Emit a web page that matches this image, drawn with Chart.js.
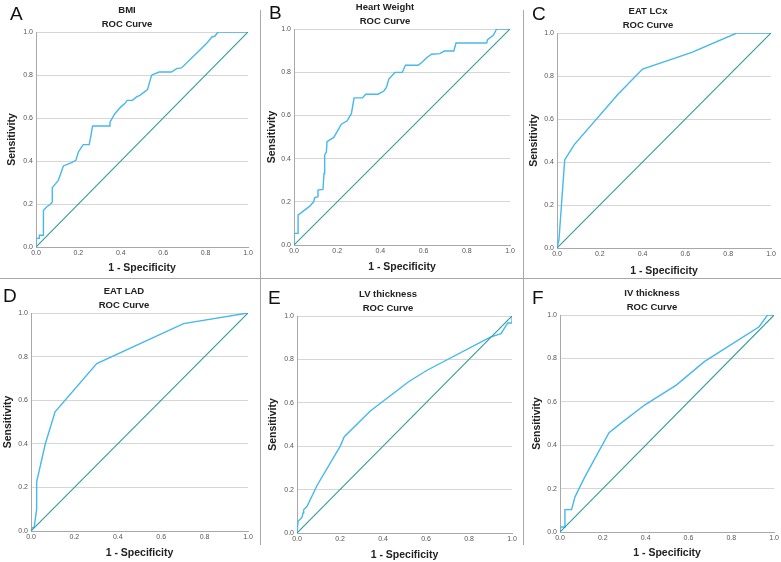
<!DOCTYPE html>
<html>
<head>
<meta charset="utf-8">
<script src="https://cdn.jsdelivr.net/npm/chart.js@4.4.1/dist/chart.umd.min.js"></script>
<style>
  html, body { margin: 0; padding: 0; background: #ffffff; }
  #root { position: relative; width: 781px; height: 562px; overflow: hidden; background: #fff; }
  .cv { position: absolute; }
  .letter { position: absolute; font-family: "Liberation Sans", Arial, sans-serif; font-size: 19px; line-height: 19px; color: #111; }
  .sep { position: absolute; background: #a8a8a8; z-index: 5; }
</style>
</head>
<body>
<div id="root"></div>
<script>
// ---------------- data (1 - specificity, sensitivity) ----------------
const tickLabels = ['0.0', '0.2', '0.4', '0.6', '0.8', '1.0'];
const panelLetters = ['A', 'B', 'C', 'D', 'E', 'F'];
const panelTitles = ['BMI', 'Heart Weight', 'EAT LCx', 'EAT LAD', 'LV thickness', 'IV thickness'];
const subTitle = 'ROC Curve';
const xTitle = '1 - Specificity';
const yTitle = 'Sensitivity';

const diagFpr = [0, 1];
const diagTpr = [0, 1];

const bmiFpr = [0, 0, 0.016, 0.016, 0.035, 0.035, 0.05, 0.069, 0.077, 0.077, 0.105, 0.116, 0.129, 0.168, 0.188, 0.2, 0.215, 0.223, 0.251, 0.258, 0.267, 0.345, 0.349, 0.372, 0.392, 0.403, 0.419, 0.43, 0.455, 0.474, 0.49, 0.526, 0.545, 0.553, 0.581, 0.639, 0.663, 0.686, 0.772, 0.804, 0.83, 0.843, 0.859, 1];
const bmiTpr = [0, 0.04, 0.04, 0.055, 0.055, 0.17, 0.186, 0.2, 0.21, 0.276, 0.31, 0.34, 0.377, 0.392, 0.403, 0.442, 0.465, 0.476, 0.476, 0.512, 0.563, 0.563, 0.581, 0.62, 0.643, 0.654, 0.667, 0.682, 0.682, 0.698, 0.705, 0.732, 0.798, 0.803, 0.814, 0.814, 0.83, 0.833, 0.915, 0.946, 0.977, 0.98, 1, 1];

const hwFpr = [0, 0, 0.019, 0.019, 0.034, 0.073, 0.091, 0.096, 0.107, 0.111, 0.134, 0.139, 0.142, 0.15, 0.153, 0.184, 0.199, 0.219, 0.246, 0.266, 0.278, 0.317, 0.332, 0.389, 0.416, 0.428, 0.439, 0.467, 0.501, 0.516, 0.575, 0.594, 0.614, 0.637, 0.675, 0.696, 0.74, 0.75, 0.892, 0.896, 0.923, 0.938, 1];
const hwTpr = [0, 0.054, 0.054, 0.139, 0.15, 0.18, 0.2, 0.22, 0.223, 0.254, 0.257, 0.331, 0.416, 0.431, 0.478, 0.498, 0.524, 0.559, 0.575, 0.609, 0.681, 0.681, 0.698, 0.698, 0.713, 0.729, 0.768, 0.799, 0.799, 0.832, 0.832, 0.847, 0.867, 0.883, 0.886, 0.898, 0.898, 0.935, 0.935, 0.951, 0.971, 1, 1];

const lcxFpr = [0, 0.009, 0.036, 0.08, 0.285, 0.4, 0.63, 0.84, 1];
const lcxTpr = [0, 0.036, 0.41, 0.48, 0.715, 0.832, 0.91, 1, 1];

const ladFpr = [0, 0.005, 0.015, 0.026, 0.026, 0.066, 0.111, 0.303, 0.703, 1];
const ladTpr = [0, 0.015, 0.018, 0.1, 0.225, 0.4, 0.547, 0.768, 0.951, 1];

const lvFpr = [0, 0.005, 0.023, 0.028, 0.031, 0.047, 0.093, 0.2, 0.22, 0.341, 0.519, 0.605, 0.899, 0.949, 0.98, 1, 1];
const lvTpr = [0, 0.054, 0.072, 0.092, 0.107, 0.123, 0.219, 0.398, 0.444, 0.562, 0.697, 0.75, 0.903, 0.919, 0.968, 0.968, 1];

const ivFpr = [0, 0, 0.012, 0.023, 0.023, 0.054, 0.07, 0.116, 0.229, 0.279, 0.395, 0.543, 0.674, 0.93, 0.969, 1];
const ivTpr = [0, 0.023, 0.023, 0.023, 0.103, 0.103, 0.162, 0.254, 0.458, 0.497, 0.585, 0.677, 0.785, 0.946, 1, 1];

const seriesFpr = [bmiFpr, hwFpr, lcxFpr, ladFpr, lvFpr, ivFpr];
const seriesTpr = [bmiTpr, hwTpr, lcxTpr, ladTpr, lvTpr, ivTpr];

// ---------------- layout (positions only) ----------------
const layouts = [
  { cl: 0,   ct: 0,   cw: 256, ch: 278, padL: 6, yW: 30, xH: 31, tTop: 3, tBot: 0, yTP: 0, xTP: 4, lx: 10,  ly: 4 },
  { cl: 260, ct: 0,   cw: 258, ch: 278, padL: 0, yW: 34, xH: 33, tTop: 0, tBot: 0, yTP: 6, xTP: 5, lx: 269, ly: 3 },
  { cl: 524, ct: 0,   cw: 257, ch: 278, padL: 1, yW: 32, xH: 30, tTop: 4, tBot: 0, yTP: 3, xTP: 1, lx: 532, ly: 4 },
  { cl: 0,   ct: 280, cw: 256, ch: 282, padL: 0, yW: 31, xH: 31, tTop: 4, tBot: 0, yTP: 2, xTP: 3, lx: 3,   ly: 286 },
  { cl: 262, ct: 280, cw: 258, ch: 282, padL: 2, yW: 33, xH: 29, tTop: 7, tBot: 0, yTP: 3, xTP: 1, lx: 268, ly: 288 },
  { cl: 524, ct: 280, cw: 257, ch: 282, padL: 5, yW: 31, xH: 30, tTop: 6, tBot: 0, yTP: 2, xTP: 3, lx: 532, ly: 288 }
];
const plotRight = [248, 510, 771, 248, 512, 775];

const root = document.getElementById('root');
const FONT = '"Liberation Sans", Arial, Helvetica, sans-serif';
const curveColor = '#45b8ec';
const diagColor = '#2f9c98';

function toPoints(xs, ys) { return xs.map((x, i) => ({ x: x, y: ys[i] })); }

layouts.forEach((L, i) => {
  const cv = document.createElement('canvas');
  cv.className = 'cv';
  cv.width = L.cw; cv.height = L.ch;
  cv.style.left = L.cl + 'px'; cv.style.top = L.ct + 'px';
  cv.style.width = L.cw + 'px'; cv.style.height = L.ch + 'px';
  root.appendChild(cv);

  const letter = document.createElement('div');
  letter.className = 'letter';
  letter.textContent = panelLetters[i];
  letter.style.left = L.lx + 'px'; letter.style.top = L.ly + 'px';
  root.appendChild(letter);

  const padR = L.cl + L.cw - plotRight[i];
  const tickFont = { family: FONT, size: 7 };

  new Chart(cv.getContext('2d'), {
    type: 'scatter',
    data: {
      datasets: [
        { data: toPoints(diagFpr, diagTpr), showLine: true, borderColor: diagColor, borderWidth: 1.1, pointRadius: 0, tension: 0 },
        { data: toPoints(seriesFpr[i], seriesTpr[i]), showLine: true, borderColor: curveColor, borderWidth: 1.4, pointRadius: 0, tension: 0 }
      ]
    },
    options: {
      responsive: false,
      animation: false,
      devicePixelRatio: 1,
      layout: { padding: { left: L.padL, right: padR, top: 0, bottom: 0 } },
      plugins: {
        legend: { display: false },
        tooltip: { enabled: false },
        title: {
          display: true,
          text: [panelTitles[i], subTitle],
          color: '#222',
          font: { family: FONT, size: 9.5, weight: 'bold', lineHeight: '14.5px' },
          padding: { top: L.tTop, bottom: L.tBot }
        }
      },
      scales: {
        x: {
          type: 'linear', min: 0, max: 1,
          afterFit: s => { s.height = L.xH; },
          grid: { display: false, drawTicks: false },
          border: { display: true, color: '#a8a8a8', width: 1 },
          ticks: {
            stepSize: 0.2, padding: 2, color: '#555', font: tickFont, maxRotation: 0,
            callback: (v) => tickLabels[Math.round(v * 5)]
          },
          title: { display: true, text: xTitle, color: '#222', font: { family: FONT, size: 10.5, weight: 'bold' }, padding: { top: 0, bottom: L.xTP } }
        },
        y: {
          type: 'linear', min: 0, max: 1,
          afterFit: s => { s.width = L.yW; },
          grid: { display: true, drawTicks: false, color: '#d6d6d6', lineWidth: 1 },
          border: { display: true, color: '#a8a8a8', width: 1 },
          ticks: {
            stepSize: 0.2, padding: 3, color: '#555', font: tickFont,
            callback: (v) => tickLabels[Math.round(v * 5)]
          },
          title: { display: true, text: yTitle, color: '#222', font: { family: FONT, size: 10.5, weight: 'bold' }, padding: { top: L.yTP, bottom: 0 } }
        }
      }
    }
  });
});

function sep(l, t, w, h) {
  const d = document.createElement('div');
  d.className = 'sep';
  d.style.left = l + 'px'; d.style.top = t + 'px';
  d.style.width = w + 'px'; d.style.height = h + 'px';
  root.appendChild(d);
}
sep(260, 10, 1, 535);
sep(523, 10, 1, 535);
sep(0, 278, 781, 1);
</script>
</body>
</html>
